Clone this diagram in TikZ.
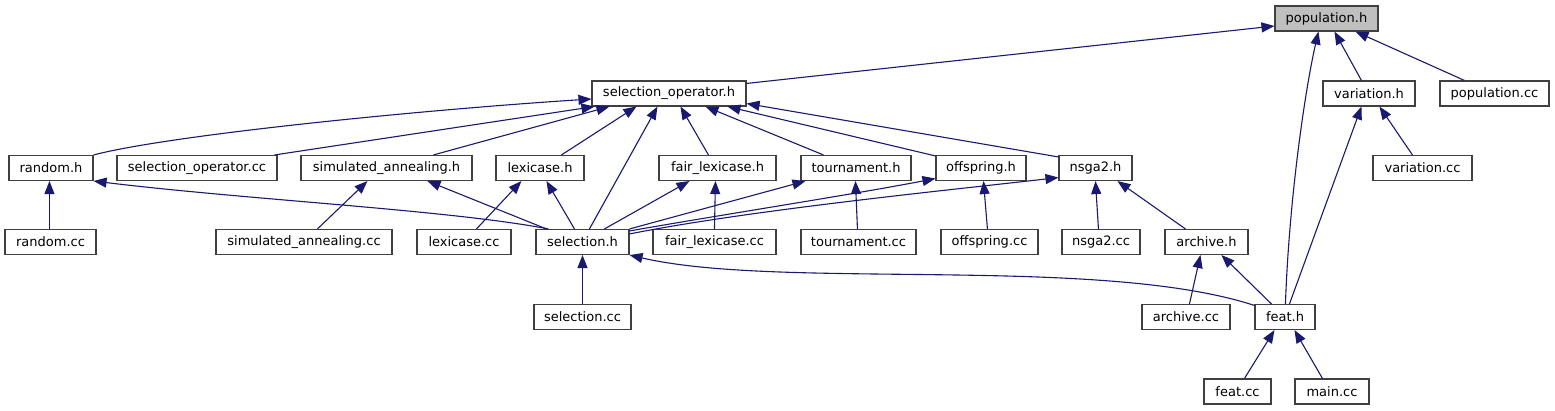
\documentclass[tikz,border=0pt]{standalone}
\usepackage{fontspec}
\setmainfont{DejaVu Sans}
\usetikzlibrary{arrows.meta}
\definecolor{grey25}{HTML}{404040}
\definecolor{grey75}{HTML}{BFBFBF}
\definecolor{mblue}{HTML}{191970}
\begin{document}
\begin{tikzpicture}[x=1pt,y=-1pt,
  box/.style={draw=grey25, line width=1.1pt, fill=white, minimum height=25pt, inner sep=0pt, font=\fontsize{13}{14}\selectfont},
  dep/.style={draw=mblue, line width=1.1pt, arrows={Triangle[length=13pt,width=10pt]-}}]
\useasboundingbox[fill=white] (0,0) rectangle (1555,411);
% row 0
\node[box, fill=grey75, minimum width=103pt] (pop) at (1326.5,18.5) {population.h};
% row 1
\node[box, minimum width=154pt] (sop) at (669,93.5) {selection\_operator.h};
\node[box, minimum width=92pt] (var) at (1369,93.5) {variation.h};
\node[box, minimum width=109pt] (popcc) at (1494.5,93.5) {population.cc};
% row 2
\node[box, minimum width=84pt] (rnd) at (51,168) {random.h};
\node[box, minimum width=160pt] (sopcc) at (197,168) {selection\_operator.cc};
\node[box, minimum width=171pt] (sa) at (386.5,168) {simulated\_annealing.h};
\node[box, minimum width=88pt] (lex) at (540,168) {lexicase.h};
\node[box, minimum width=117pt] (fl) at (717.5,168) {fair\_lexicase.h};
\node[box, minimum width=110pt] (tour) at (856,168) {tournament.h};
\node[box, minimum width=90pt] (off) at (981,168) {offspring.h};
\node[box, minimum width=73pt] (ns) at (1095.5,168) {nsga2.h};
\node[box, minimum width=99pt] (varcc) at (1422.5,168) {variation.cc};
% row 3
\node[box, minimum width=91pt] (rndcc) at (50.5,242) {random.cc};
\node[box, minimum width=176pt] (sacc) at (304,242) {simulated\_annealing.cc};
\node[box, minimum width=94pt] (lexcc) at (464,242) {lexicase.cc};
\node[box, minimum width=93pt] (sel) at (582.5,242) {selection.h};
\node[box, minimum width=123pt] (flcc) at (714.5,242) {fair\_lexicase.cc};
\node[box, minimum width=115pt] (tourcc) at (858.5,242) {tournament.cc};
\node[box, minimum width=97pt] (offcc) at (989.5,242) {offspring.cc};
\node[box, minimum width=78pt] (nscc) at (1101,242) {nsga2.cc};
\node[box, minimum width=83pt] (arch) at (1206.5,242) {archive.h};
% row 4
\node[box, minimum width=97pt] (selcc) at (582.5,317) {selection.cc};
\node[box, minimum width=88pt] (archcc) at (1186,317) {archive.cc};
\node[box, minimum width=60pt] (feat) at (1285,317) {feat.h};
% row 5
\node[box, minimum width=67pt] (featcc) at (1237.5,391.5) {feat.cc};
\node[box, minimum width=74pt] (maincc) at (1332,391.5) {main.cc};

% edges (arrow at the included file)
\draw[dep] ([yshift=-7.5pt]pop.west) -- ([yshift=-3pt]sop.north east);
\draw[dep] ([xshift=44pt]pop.south west) .. controls (1305,90) and (1289,200) .. ([xshift=31pt]feat.north west);
\draw[dep] ([xshift=60pt]pop.south west) -- ([xshift=39pt]var.north west);
\draw[dep] ([xshift=81pt]pop.south west) -- ([xshift=25pt]popcc.north west);

\draw[dep] ([yshift=-5.5pt]sop.west) .. controls (420,110) and (170,135) .. (rnd.north east);
\draw[dep] ([xshift=3pt]sop.south west) -- ([xshift=-3pt]sopcc.north east);
\draw[dep] ([xshift=18pt]sop.south west) -- ([xshift=133pt]sa.north west);
\draw[dep] ([xshift=45pt]sop.south west) -- ([xshift=66pt]lex.north west);
\draw[dep] ([xshift=66pt]sop.south west) -- ([xshift=54pt]sel.north west);
\draw[dep] ([xshift=89pt]sop.south west) -- ([xshift=50pt]fl.north west);
\draw[dep] ([xshift=114pt]sop.south west) -- ([xshift=23pt]tour.north west);
\draw[dep] ([xshift=136pt]sop.south west) -- ([yshift=-1pt]off.north west);
\draw[dep] ([yshift=3pt]sop.south east) -- ([yshift=-2pt]ns.north west);

\draw[dep] ([xshift=41pt]rnd.south west) -- ([xshift=45pt]rndcc.north west);
\draw[dep] (rnd.south east) .. controls (250,200) and (450,210) .. ([xshift=13pt]sel.north west);
\draw[dep] ([xshift=67pt]sa.south west) -- ([xshift=102pt]sacc.north west);
\draw[dep] ([xshift=127pt]sa.south west) -- ([xshift=11pt]sel.north west);
\draw[dep] ([xshift=26pt]lex.south west) -- ([xshift=60pt]lexcc.north west);
\draw[dep] ([xshift=51pt]lex.south west) -- ([xshift=39pt]sel.north west);
\draw[dep] ([xshift=57pt]fl.south west) -- ([xshift=62pt]flcc.north west);
\draw[dep] ([xshift=31pt]fl.south west) -- ([xshift=69pt]sel.north west);
\draw[dep] ([xshift=5pt]tour.south west) -- (sel.north east);
\draw[dep] ([xshift=55pt]tour.south west) -- ([xshift=57pt]tourcc.north west);
\draw[dep] ([yshift=2.5pt]off.south west) .. controls (850,195) and (720,215) .. ([yshift=-2pt]sel.north east);
\draw[dep] ([xshift=48pt]off.south west) -- ([xshift=47pt]offcc.north west);
\draw[dep] ([yshift=3.5pt]ns.south west) .. controls (950,190) and (750,210) .. ([yshift=-5pt]sel.north east);
\draw[dep] ([xshift=37pt]ns.south west) -- ([xshift=37pt]nscc.north west);
\draw[dep] ([xshift=59pt]ns.south west) -- ([xshift=21pt]arch.north west);

\draw[dep] (sel.south) -- (selcc.north);
\draw[dep] (sel.south east) .. controls (780,290) and (1100,255) .. ([yshift=-1.5pt]feat.north west);
\draw[dep] ([xshift=36pt]arch.south west) -- ([xshift=48pt]archcc.north west);
\draw[dep] ([xshift=57pt]arch.south west) -- ([xshift=17pt]feat.north west);
\draw[dep] ([xshift=57pt]var.south west) -- ([xshift=40pt]varcc.north west);
\draw[dep] ([xshift=39pt]var.south west) -- ([xshift=35pt]feat.north west);
\draw[dep] ([xshift=20pt]feat.south west) -- ([xshift=41pt]featcc.north west);
\draw[dep] ([xshift=40pt]feat.south west) -- ([xshift=28pt]maincc.north west);
\end{tikzpicture}
\end{document}
